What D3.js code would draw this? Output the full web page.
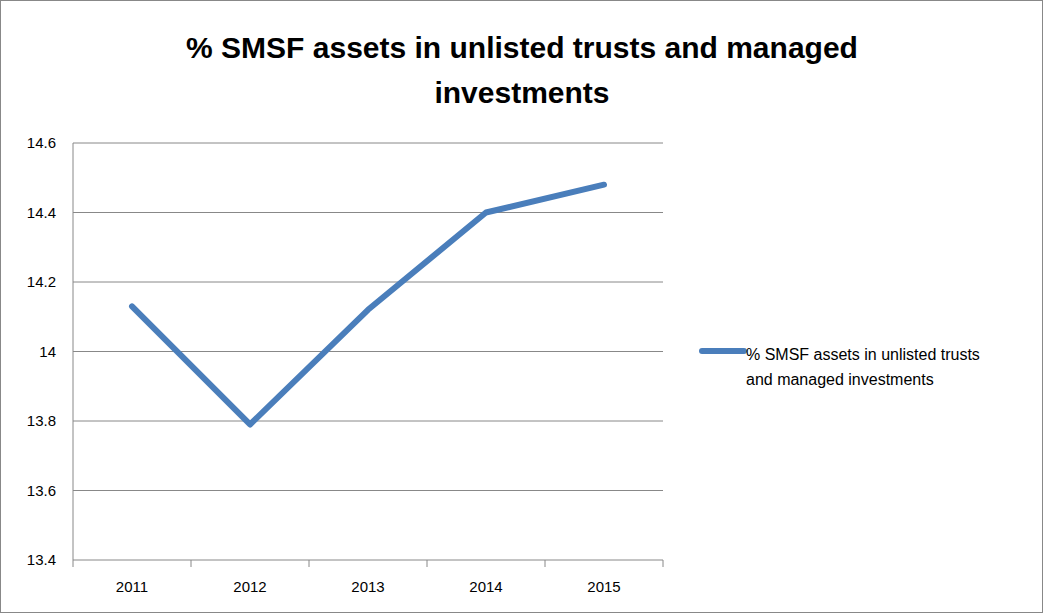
<!DOCTYPE html>
<html>
<head>
<meta charset="utf-8">
<script src="https://d3js.org/d3.v7.min.js"></script>
<style>
body { margin: 0; background: white; }
text { font-family: "Liberation Sans", Arial, sans-serif; fill: #000; }
</style>
</head>
<body>
<svg id="chart" width="1044" height="614"></svg>
<script>
var years = ["2011", "2012", "2013", "2014", "2015"];
var values = [14.13, 13.79, 14.12, 14.40, 14.48];
var yTicks = [13.4, 13.6, 13.8, 14, 14.2, 14.4, 14.6];
var seriesName = "% SMSF assets in unlisted trusts and managed investments";

var svg = d3.select("#chart");
svg.append("rect").attr("x", 0.5).attr("y", 0.5).attr("width", 1042).attr("height", 612)
    .attr("fill", "white").attr("stroke", "#888");

var x = d3.scaleBand().domain(years).range([73, 663]);
var y = d3.scaleLinear().domain([13.4, 14.6]).range([560, 143]);

// gridlines
svg.selectAll(".grid").data(yTicks).join("line")
    .attr("x1", 73).attr("x2", 663)
    .attr("y1", d => y(d)).attr("y2", d => y(d))
    .attr("stroke", "#888").attr("stroke-width", 1);

// axes
svg.append("line").attr("x1", 73).attr("x2", 73).attr("y1", 143).attr("y2", 560).attr("stroke", "#888");
svg.selectAll(".xt").data(d3.range(years.length + 1)).join("line")
    .attr("x1", i => 73 + i * x.bandwidth()).attr("x2", i => 73 + i * x.bandwidth())
    .attr("y1", 560).attr("y2", 567).attr("stroke", "#888");

svg.selectAll(".yl").data(yTicks).join("text")
    .attr("x", 56).attr("y", d => y(d) + 5)
    .attr("text-anchor", "end").style("font-size", "15px")
    .text(d => d);
svg.selectAll(".xl").data(years).join("text")
    .attr("x", d => x(d) + x.bandwidth() / 2).attr("y", 592)
    .attr("text-anchor", "middle").style("font-size", "15px")
    .text(d => d);

// line
var line = d3.line().x((d, i) => x(years[i]) + x.bandwidth() / 2).y(d => y(d));
svg.append("path").datum(values).attr("d", line)
    .attr("fill", "none").attr("stroke", "#4a7ebb").attr("stroke-width", 6)
    .attr("stroke-linejoin", "round").attr("stroke-linecap", "round");

// title
svg.append("text").attr("x", 522).attr("y", 58).attr("text-anchor", "middle")
    .style("font-size", "30px").style("font-weight", "bold").text("% SMSF assets in unlisted trusts and managed");
svg.append("text").attr("x", 522).attr("y", 103).attr("text-anchor", "middle")
    .style("font-size", "30px").style("font-weight", "bold").text("investments");

// legend
svg.append("line").attr("x1", 702).attr("x2", 744).attr("y1", 351).attr("y2", 351)
    .attr("stroke", "#4a7ebb").attr("stroke-width", 6).attr("stroke-linecap", "round");
svg.append("text").attr("x", 746).attr("y", 360).style("font-size", "16px").text("% SMSF assets in unlisted trusts");
svg.append("text").attr("x", 746).attr("y", 385).style("font-size", "16px").text("and managed investments");
</script>
</body>
</html>
